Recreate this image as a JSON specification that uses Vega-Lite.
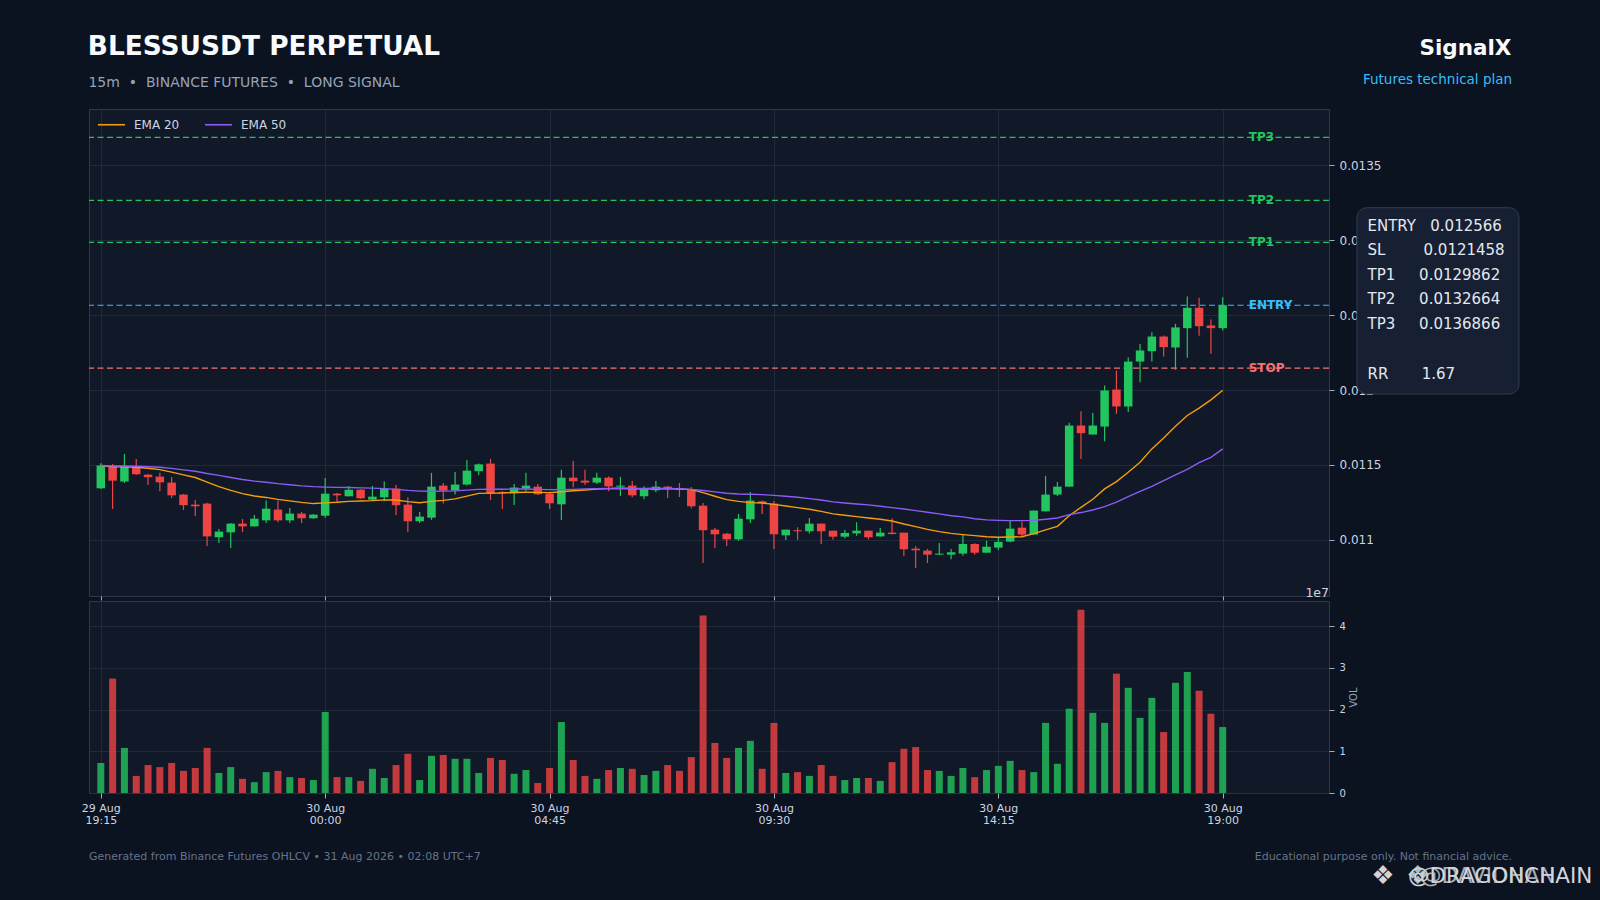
{
  "$schema": "https://vega.github.io/schema/vega-lite/v6.json",
  "description": "BLESSUSDT perpetual 15m candles with EMA 20/50, trade levels and volume.",
  "background": "#0b1220",
  "padding": 0,
  "autosize": {"type": "pad"},
  "bounds": "flush",
  "spacing": 5,
  "config": {
    "font": "DejaVu Sans",
    "view": {"fill": "#111827", "stroke": "#2d394b", "strokeWidth": 1},
    "axis": {
      "grid": true,
      "gridColor": "#243044",
      "gridWidth": 0.8,
      "domain": false,
      "tickColor": "#cbd5e1",
      "tickWidth": 0.8,
      "labelColor": "#cbd5e1",
      "labelFont": "DejaVu Sans",
      "titleColor": "#94a3b8",
      "titleFont": "DejaVu Sans",
      "titleFontWeight": "normal"
    },
    "legend": {
      "labelColor": "#cbd5e1",
      "labelFont": "DejaVu Sans",
      "labelFontSize": 12
    }
  },
  "datasets": {
    "candles": [
      {"i":0,"o":0.011344,"h":0.011511,"l":0.01134,"c":0.011496,"v":7200000,"e20":0.011496,"e50":0.011496},
      {"i":1,"o":0.011496,"h":0.011507,"l":0.011206,"c":0.011395,"v":27400000,"e20":0.011487,"e50":0.011493},
      {"i":2,"o":0.011389,"h":0.011573,"l":0.01138,"c":0.011491,"v":10800000,"e20":0.011488,"e50":0.011493},
      {"i":3,"o":0.011491,"h":0.01154,"l":0.011433,"c":0.011438,"v":4100000,"e20":0.011484,"e50":0.011491},
      {"i":4,"o":0.011435,"h":0.01144,"l":0.011366,"c":0.011418,"v":6700000,"e20":0.011478,"e50":0.011488},
      {"i":5,"o":0.011422,"h":0.011447,"l":0.011324,"c":0.011384,"v":6200000,"e20":0.011469,"e50":0.011484},
      {"i":6,"o":0.011382,"h":0.011418,"l":0.01128,"c":0.011297,"v":7200000,"e20":0.011452,"e50":0.011477},
      {"i":7,"o":0.011302,"h":0.011306,"l":0.011199,"c":0.011231,"v":5300000,"e20":0.011434,"e50":0.011467},
      {"i":8,"o":0.011235,"h":0.011266,"l":0.011159,"c":0.011224,"v":6000000,"e20":0.011416,"e50":0.011458},
      {"i":9,"o":0.011242,"h":0.011248,"l":0.010959,"c":0.011023,"v":10800000,"e20":0.011385,"e50":0.011443},
      {"i":10,"o":0.011017,"h":0.011072,"l":0.010979,"c":0.011055,"v":4800000,"e20":0.011355,"e50":0.01143},
      {"i":11,"o":0.01105,"h":0.011112,"l":0.010945,"c":0.011108,"v":6200000,"e20":0.01133,"e50":0.011416},
      {"i":12,"o":0.011108,"h":0.011139,"l":0.011052,"c":0.01109,"v":3400000,"e20":0.011308,"e50":0.011403},
      {"i":13,"o":0.01109,"h":0.011166,"l":0.011088,"c":0.011141,"v":2600000,"e20":0.011293,"e50":0.011392},
      {"i":14,"o":0.01113,"h":0.011262,"l":0.011112,"c":0.011208,"v":5000000,"e20":0.011283,"e50":0.011384},
      {"i":15,"o":0.011202,"h":0.011262,"l":0.011117,"c":0.01113,"v":5300000,"e20":0.01127,"e50":0.011375},
      {"i":16,"o":0.01113,"h":0.011213,"l":0.011112,"c":0.011175,"v":3800000,"e20":0.01126,"e50":0.011368},
      {"i":17,"o":0.011175,"h":0.011186,"l":0.011112,"c":0.011144,"v":3600000,"e20":0.01125,"e50":0.01136},
      {"i":18,"o":0.011144,"h":0.011173,"l":0.011141,"c":0.011168,"v":3100000,"e20":0.011242,"e50":0.011355},
      {"i":19,"o":0.011161,"h":0.011413,"l":0.011148,"c":0.011308,"v":19400000,"e20":0.011247,"e50":0.011352},
      {"i":20,"o":0.011308,"h":0.011313,"l":0.011255,"c":0.011297,"v":3800000,"e20":0.011251,"e50":0.01135},
      {"i":21,"o":0.011291,"h":0.01136,"l":0.011289,"c":0.011335,"v":3800000,"e20":0.011257,"e50":0.011349},
      {"i":22,"o":0.011335,"h":0.011337,"l":0.011275,"c":0.011277,"v":2900000,"e20":0.011259,"e50":0.011347},
      {"i":23,"o":0.011268,"h":0.01136,"l":0.011262,"c":0.011288,"v":5800000,"e20":0.011262,"e50":0.011345},
      {"i":24,"o":0.011284,"h":0.011389,"l":0.011257,"c":0.011342,"v":3600000,"e20":0.011267,"e50":0.011342},
      {"i":25,"o":0.011342,"h":0.011366,"l":0.011166,"c":0.011231,"v":6700000,"e20":0.011266,"e50":0.011337},
      {"i":26,"o":0.011235,"h":0.011284,"l":0.011052,"c":0.011124,"v":9400000,"e20":0.011255,"e50":0.01133},
      {"i":27,"o":0.011124,"h":0.011186,"l":0.011112,"c":0.011155,"v":3100000,"e20":0.011248,"e50":0.011325},
      {"i":28,"o":0.011148,"h":0.011447,"l":0.011133,"c":0.011355,"v":8900000,"e20":0.011257,"e50":0.011324},
      {"i":29,"o":0.011362,"h":0.01138,"l":0.011242,"c":0.011329,"v":9100000,"e20":0.011263,"e50":0.011325},
      {"i":30,"o":0.011329,"h":0.011453,"l":0.011302,"c":0.011369,"v":8200000,"e20":0.011273,"e50":0.011327},
      {"i":31,"o":0.011369,"h":0.011533,"l":0.011362,"c":0.011462,"v":8200000,"e20":0.011292,"e50":0.011332},
      {"i":32,"o":0.011458,"h":0.011509,"l":0.011433,"c":0.011504,"v":4800000,"e20":0.01131,"e50":0.011337},
      {"i":33,"o":0.011509,"h":0.01154,"l":0.011266,"c":0.011308,"v":8400000,"e20":0.011312,"e50":0.011338},
      {"i":34,"o":0.01132,"h":0.011324,"l":0.011206,"c":0.011313,"v":7900000,"e20":0.011313,"e50":0.011338},
      {"i":35,"o":0.011311,"h":0.011373,"l":0.011233,"c":0.011349,"v":4600000,"e20":0.011316,"e50":0.011339},
      {"i":36,"o":0.011342,"h":0.011447,"l":0.011324,"c":0.011362,"v":5500000,"e20":0.011318,"e50":0.011339},
      {"i":37,"o":0.011355,"h":0.011373,"l":0.0113,"c":0.011304,"v":2400000,"e20":0.011317,"e50":0.011337},
      {"i":38,"o":0.011308,"h":0.011313,"l":0.011206,"c":0.011244,"v":6000000,"e20":0.011315,"e50":0.011335},
      {"i":39,"o":0.011237,"h":0.011467,"l":0.011133,"c":0.011415,"v":17000000,"e20":0.011321,"e50":0.011335},
      {"i":40,"o":0.011415,"h":0.011527,"l":0.011351,"c":0.011391,"v":7900000,"e20":0.011328,"e50":0.011337},
      {"i":41,"o":0.011395,"h":0.011467,"l":0.011366,"c":0.011382,"v":4100000,"e20":0.011333,"e50":0.011339},
      {"i":42,"o":0.011382,"h":0.011447,"l":0.011373,"c":0.011415,"v":3400000,"e20":0.011339,"e50":0.011342},
      {"i":43,"o":0.011415,"h":0.011422,"l":0.011324,"c":0.011357,"v":5500000,"e20":0.011342,"e50":0.011343},
      {"i":44,"o":0.011355,"h":0.01142,"l":0.011293,"c":0.011362,"v":6000000,"e20":0.011344,"e50":0.011344},
      {"i":45,"o":0.011362,"h":0.011393,"l":0.011284,"c":0.011297,"v":5800000,"e20":0.011341,"e50":0.011343},
      {"i":46,"o":0.011291,"h":0.011357,"l":0.011271,"c":0.011337,"v":4300000,"e20":0.011341,"e50":0.011343},
      {"i":47,"o":0.011331,"h":0.011393,"l":0.011317,"c":0.011355,"v":5300000,"e20":0.011342,"e50":0.011344},
      {"i":48,"o":0.011355,"h":0.01136,"l":0.01128,"c":0.01134,"v":6700000,"e20":0.011341,"e50":0.011343},
      {"i":49,"o":0.011342,"h":0.01138,"l":0.011286,"c":0.011333,"v":5300000,"e20":0.01134,"e50":0.011342},
      {"i":50,"o":0.011337,"h":0.011353,"l":0.01121,"c":0.011224,"v":8600000,"e20":0.011335,"e50":0.011337},
      {"i":51,"o":0.011228,"h":0.011246,"l":0.010845,"c":0.011064,"v":42500000,"e20":0.011315,"e50":0.011329},
      {"i":52,"o":0.011068,"h":0.011079,"l":0.010945,"c":0.011037,"v":12000000,"e20":0.011291,"e50":0.01132},
      {"i":53,"o":0.011041,"h":0.011046,"l":0.010959,"c":0.011003,"v":8400000,"e20":0.011268,"e50":0.011311},
      {"i":54,"o":0.011003,"h":0.011173,"l":0.010994,"c":0.011141,"v":10800000,"e20":0.011257,"e50":0.011306},
      {"i":55,"o":0.011137,"h":0.01132,"l":0.011112,"c":0.011262,"v":12500000,"e20":0.011248,"e50":0.011304},
      {"i":56,"o":0.011257,"h":0.011262,"l":0.011173,"c":0.011246,"v":5800000,"e20":0.011246,"e50":0.011302},
      {"i":57,"o":0.011242,"h":0.011259,"l":0.010939,"c":0.011037,"v":16800000,"e20":0.011237,"e50":0.011297},
      {"i":58,"o":0.01103,"h":0.011068,"l":0.010999,"c":0.011068,"v":4800000,"e20":0.011226,"e50":0.011291},
      {"i":59,"o":0.011064,"h":0.011084,"l":0.010999,"c":0.011057,"v":5000000,"e20":0.011215,"e50":0.011284},
      {"i":60,"o":0.011057,"h":0.011146,"l":0.011043,"c":0.011108,"v":4100000,"e20":0.011204,"e50":0.011275},
      {"i":61,"o":0.011108,"h":0.011108,"l":0.010972,"c":0.011057,"v":6700000,"e20":0.01119,"e50":0.011266},
      {"i":62,"o":0.011061,"h":0.011061,"l":0.011003,"c":0.011021,"v":4100000,"e20":0.011173,"e50":0.011253},
      {"i":63,"o":0.011021,"h":0.011066,"l":0.01101,"c":0.011046,"v":3100000,"e20":0.011164,"e50":0.011246},
      {"i":64,"o":0.011043,"h":0.011117,"l":0.011028,"c":0.011061,"v":3600000,"e20":0.011155,"e50":0.011239},
      {"i":65,"o":0.011061,"h":0.011061,"l":0.011003,"c":0.011017,"v":3600000,"e20":0.011146,"e50":0.011233},
      {"i":66,"o":0.011023,"h":0.011079,"l":0.011021,"c":0.011048,"v":2900000,"e20":0.011137,"e50":0.011224},
      {"i":67,"o":0.011048,"h":0.011144,"l":0.011035,"c":0.011039,"v":7400000,"e20":0.011126,"e50":0.011215},
      {"i":68,"o":0.011048,"h":0.011048,"l":0.01089,"c":0.010937,"v":10600000,"e20":0.011106,"e50":0.011206},
      {"i":69,"o":0.010941,"h":0.010957,"l":0.010812,"c":0.01093,"v":11000000,"e20":0.011088,"e50":0.011195},
      {"i":70,"o":0.010928,"h":0.010939,"l":0.010845,"c":0.010901,"v":5500000,"e20":0.01107,"e50":0.011184},
      {"i":71,"o":0.010901,"h":0.010979,"l":0.010899,"c":0.010908,"v":5300000,"e20":0.011055,"e50":0.011173},
      {"i":72,"o":0.010901,"h":0.010939,"l":0.01087,"c":0.010917,"v":4100000,"e20":0.011043,"e50":0.011161},
      {"i":73,"o":0.010908,"h":0.011032,"l":0.010894,"c":0.010972,"v":6000000,"e20":0.011035,"e50":0.011153},
      {"i":74,"o":0.010972,"h":0.010977,"l":0.010901,"c":0.010914,"v":3800000,"e20":0.011028,"e50":0.011141},
      {"i":75,"o":0.010914,"h":0.010994,"l":0.010914,"c":0.010954,"v":5500000,"e20":0.011021,"e50":0.011133},
      {"i":76,"o":0.010948,"h":0.011017,"l":0.010932,"c":0.010986,"v":6500000,"e20":0.011017,"e50":0.01113},
      {"i":77,"o":0.010988,"h":0.01113,"l":0.010983,"c":0.011075,"v":7700000,"e20":0.011019,"e50":0.011128},
      {"i":78,"o":0.011081,"h":0.011121,"l":0.011017,"c":0.011035,"v":5500000,"e20":0.011021,"e50":0.011128},
      {"i":79,"o":0.011035,"h":0.011195,"l":0.011035,"c":0.011195,"v":5000000,"e20":0.011041,"e50":0.01113},
      {"i":80,"o":0.01119,"h":0.011427,"l":0.01119,"c":0.011302,"v":16800000,"e20":0.011066,"e50":0.011137},
      {"i":81,"o":0.011302,"h":0.011386,"l":0.011293,"c":0.011355,"v":7000000,"e20":0.01109,"e50":0.011146},
      {"i":82,"o":0.011355,"h":0.011781,"l":0.011355,"c":0.011763,"v":20200000,"e20":0.011161,"e50":0.011168},
      {"i":83,"o":0.011763,"h":0.011859,"l":0.01154,"c":0.011712,"v":43900000,"e20":0.011217,"e50":0.011182},
      {"i":84,"o":0.011703,"h":0.011847,"l":0.011703,"c":0.011763,"v":19200000,"e20":0.011271,"e50":0.011199},
      {"i":85,"o":0.011756,"h":0.01203,"l":0.011658,"c":0.011997,"v":16800000,"e20":0.01134,"e50":0.011222},
      {"i":86,"o":0.012003,"h":0.01213,"l":0.011841,"c":0.01189,"v":28600000,"e20":0.011389,"e50":0.011251},
      {"i":87,"o":0.01189,"h":0.012219,"l":0.011854,"c":0.01219,"v":25200000,"e20":0.011451,"e50":0.011288},
      {"i":88,"o":0.01219,"h":0.012308,"l":0.012052,"c":0.012264,"v":18000000,"e20":0.011518,"e50":0.011324},
      {"i":89,"o":0.012259,"h":0.012386,"l":0.01219,"c":0.012357,"v":22800000,"e20":0.011607,"e50":0.011357},
      {"i":90,"o":0.012357,"h":0.012364,"l":0.012224,"c":0.012286,"v":14600000,"e20":0.01168,"e50":0.011395},
      {"i":91,"o":0.012284,"h":0.012442,"l":0.012135,"c":0.012418,"v":26400000,"e20":0.011758,"e50":0.011433},
      {"i":92,"o":0.012413,"h":0.012625,"l":0.012215,"c":0.012549,"v":29000000,"e20":0.01183,"e50":0.011471},
      {"i":93,"o":0.012549,"h":0.012616,"l":0.012362,"c":0.012426,"v":24500000,"e20":0.011879,"e50":0.011516},
      {"i":94,"o":0.012431,"h":0.012471,"l":0.012242,"c":0.012413,"v":19000000,"e20":0.011934,"e50":0.011551},
      {"i":95,"o":0.012413,"h":0.01262,"l":0.012397,"c":0.012566,"v":15800000,"e20":0.011998,"e50":0.011607}
    ],
    "levels": [
      {"name": "TP3", "level": 0.0136866},
      {"name": "TP2", "level": 0.0132664},
      {"name": "TP1", "level": 0.0129862},
      {"name": "ENTRY", "level": 0.012566},
      {"name": "STOP", "level": 0.0121458}
    ]
  },
  "vconcat": [
    {
      "width": 1240,
      "height": 487,
      "resolve": {"scale": {"color": "independent"}},
      "layer": [
        {
          "data": {"values": [{}]},
          "mark": {"type": "rect", "fill": "transparent"},
          "encoding": {
            "x": {"datum": -8.4516, "type": "quantitative"},
            "x2": {"datum": 127.03},
            "y": {"datum": 0.014597, "type": "quantitative"},
            "y2": {"datum": 0.008589}
          }
        },
        {
          "data": {"name": "levels"},
          "mark": {"type": "rule", "strokeWidth": 1.2, "strokeDash": [6, 3.5]},
          "encoding": {
            "y": {"field": "level", "type": "quantitative"},
            "color": {
              "field": "name",
              "type": "nominal",
              "scale": {"domain": ["TP3", "TP2", "TP1", "ENTRY", "STOP"], "range": ["#22c55e", "#22c55e", "#22c55e", "#38bdf8", "#f87171"]},
              "legend": null
            }
          }
        },
        {
          "data": {"name": "levels"},
          "mark": {"type": "text", "align": "left", "baseline": "middle", "fontSize": 12, "fontWeight": "bold"},
          "encoding": {
            "x": {"datum": 97.2, "type": "quantitative"},
            "y": {"field": "level", "type": "quantitative"},
            "text": {"field": "name"},
            "color": {
              "field": "name",
              "type": "nominal",
              "scale": {"domain": ["TP3", "TP2", "TP1", "ENTRY", "STOP"], "range": ["#22c55e", "#22c55e", "#22c55e", "#38bdf8", "#f87171"]},
              "legend": null
            }
          }
        },
        {
          "data": {"name": "candles"},
          "mark": {"type": "rule", "strokeWidth": 1.2},
          "encoding": {
            "x": {
              "field": "i",
              "type": "quantitative",
              "scale": {"domain": [-1, 104], "nice": false, "zero": false, "padding": 0},
              "axis": {"values": [0, 19, 38, 57, 76, 95], "labels": false, "tickSize": 4, "title": null}
            },
            "y": {
              "field": "l",
              "type": "quantitative",
              "scale": {"domain": [0.010625, 0.013876], "nice": false, "zero": false},
              "axis": {
                "orient": "right",
                "values": [0.011, 0.0115, 0.012, 0.0125, 0.013, 0.0135],
                "format": "~g",
                "labelFontSize": 12,
                "tickSize": 5,
                "labelPadding": 5,
                "title": null
              }
            },
            "y2": {"field": "h"},
            "color": {"condition": {"test": "datum.c >= datum.o", "value": "#22c55e"}, "value": "#ef4444"}
          }
        },
        {
          "data": {"name": "candles"},
          "mark": {"type": "bar", "size": 8.5},
          "encoding": {
            "x": {"field": "i", "type": "quantitative"},
            "y": {"field": "o", "type": "quantitative"},
            "y2": {"field": "c"},
            "color": {"condition": {"test": "datum.c >= datum.o", "value": "#22c55e"}, "value": "#ef4444"}
          }
        },
        {
          "data": {"name": "candles"},
          "transform": [{"fold": ["e20", "e50"], "as": ["ema", "value"]}],
          "mark": {"type": "line", "strokeWidth": 1.4},
          "encoding": {
            "x": {"field": "i", "type": "quantitative"},
            "y": {"field": "value", "type": "quantitative"},
            "color": {
              "field": "ema",
              "type": "nominal",
              "scale": {"domain": ["e20", "e50"], "range": ["#f59e0b", "#8b5cf6"]},
              "legend": {
                "title": null,
                "orient": "none",
                "legendX": 8,
                "legendY": 1,
                "direction": "horizontal",
                "symbolType": "stroke",
                "symbolSize": 729,
                "symbolStrokeWidth": 1.6,
                "labelOffset": 8,
                "columnPadding": 21,
                "padding": 0,
                "labelExpr": "datum.value == 'e20' ? 'EMA 20' : 'EMA 50'"
              }
            }
          }
        },
        {
          "data": {"values": [{}]},
          "mark": {"type": "rect", "fill": "#172033", "stroke": "#2f3d52", "strokeWidth": 1, "cornerRadius": 10},
          "encoding": {
            "x": {"datum": 106.37, "type": "quantitative"},
            "x2": {"datum": 120.09},
            "y": {"datum": 0.013217, "type": "quantitative"},
            "y2": {"datum": 0.0119735}
          }
        },
        {
          "data": {"values": [{}]},
          "mark": {
            "type": "text",
            "align": "left",
            "baseline": "alphabetic",
            "fontSize": 15,
            "lineHeight": 24.5,
            "color": "#e2e8f0",
            "text": [
              "ENTRY\u00a0\u00a0\u00a00.012566",
              "SL\u00a0\u00a0\u00a0\u00a0\u00a0\u00a0\u00a0\u00a00.0121458",
              "TP1\u00a0\u00a0\u00a0\u00a0\u00a00.0129862",
              "TP2\u00a0\u00a0\u00a0\u00a0\u00a00.0132664",
              "TP3\u00a0\u00a0\u00a0\u00a0\u00a00.0136866"
            ]
          },
          "encoding": {
            "x": {"datum": 107.26, "type": "quantitative"},
            "y": {"datum": 0.013062, "type": "quantitative"}
          }
        },
        {
          "data": {"values": [{}]},
          "mark": {"type": "text", "align": "left", "baseline": "alphabetic", "fontSize": 15, "color": "#e2e8f0", "text": "RR\u00a0\u00a0\u00a0\u00a0\u00a0\u00a0\u00a01.67"},
          "encoding": {
            "x": {"datum": 107.26, "type": "quantitative"},
            "y": {"datum": 0.0120736, "type": "quantitative"}
          }
        },
        {
          "data": {"values": [{}]},
          "mark": {"type": "text", "align": "left", "baseline": "alphabetic", "fontSize": 26.4, "fontWeight": "bold", "color": "#f8fafc", "text": "BLESSUSDT PERPETUAL"},
          "encoding": {
            "x": {"datum": -1.1, "type": "quantitative"},
            "y": {"datum": 0.0142345, "type": "quantitative"}
          }
        },
        {
          "data": {"values": [{}]},
          "mark": {"type": "text", "align": "left", "baseline": "alphabetic", "fontSize": 14, "color": "#94a3b8", "text": "15m\u00a0\u00a0•\u00a0\u00a0BINANCE FUTURES\u00a0\u00a0•\u00a0\u00a0LONG SIGNAL"},
          "encoding": {
            "x": {"datum": -1.05, "type": "quantitative"},
            "y": {"datum": 0.014023, "type": "quantitative"}
          }
        },
        {
          "data": {"values": [{}]},
          "mark": {"type": "text", "align": "right", "baseline": "alphabetic", "fontSize": 21.5, "fontWeight": "bold", "color": "#f8fafc", "text": "SignalX"},
          "encoding": {
            "x": {"datum": 119.45, "type": "quantitative"},
            "y": {"datum": 0.0142345, "type": "quantitative"}
          }
        },
        {
          "data": {"values": [{}]},
          "mark": {"type": "text", "align": "right", "baseline": "alphabetic", "fontSize": 13.5, "color": "#38bdf8", "text": "Futures technical plan"},
          "encoding": {
            "x": {"datum": 119.5, "type": "quantitative"},
            "y": {"datum": 0.0140409, "type": "quantitative"}
          }
        }
      ]
    },
    {
      "width": 1240,
      "height": 192,
      "layer": [
        {
          "data": {"name": "candles"},
          "mark": {"type": "bar", "size": 7, "opacity": 0.8},
          "encoding": {
            "x": {
              "field": "i",
              "type": "quantitative",
              "scale": {"domain": [-1, 104], "nice": false, "zero": false, "padding": 0},
              "axis": {
                "values": [0, 19, 38, 57, 76, 95],
                "labelExpr": "datum.value == 0 ? ['29 Aug', '19:15'] : datum.value == 19 ? ['30 Aug', '00:00'] : datum.value == 38 ? ['30 Aug', '04:45'] : datum.value == 57 ? ['30 Aug', '09:30'] : datum.value == 76 ? ['30 Aug', '14:15'] : ['30 Aug', '19:00']",
                "labelFontSize": 11,
                "labelLineHeight": 12,
                "tickSize": 5,
                "labelPadding": 4,
                "title": null
              }
            },
            "y": {
              "field": "v",
              "type": "quantitative",
              "scale": {"domain": [0, 46000000], "nice": false},
              "axis": {
                "orient": "right",
                "values": [0, 10000000, 20000000, 30000000, 40000000],
                "labelExpr": "format(datum.value / 10000000, 'd')",
                "labelFontSize": 10,
                "tickSize": 5,
                "labelPadding": 5,
                "title": "VOL",
                "titleFontSize": 10,
                "titleAngle": 270,
                "titlePadding": 13
              }
            },
            "color": {"condition": {"test": "datum.c >= datum.o", "value": "#22c55e"}, "value": "#ef4444"}
          }
        },
        {
          "data": {"values": [{}]},
          "mark": {"type": "text", "align": "right", "baseline": "alphabetic", "fontSize": 12.5, "color": "#cbd5e1", "text": "1e7"},
          "encoding": {
            "x": {"datum": 104, "type": "quantitative"},
            "y": {"datum": 46960000, "type": "quantitative"}
          }
        },
        {
          "data": {"values": [{}]},
          "mark": {"type": "text", "align": "left", "baseline": "alphabetic", "fontSize": 11, "color": "#64748b", "text": "Generated from Binance Futures OHLCV • 31 Aug 2026 • 02:08 UTC+7"},
          "encoding": {
            "x": {"datum": -1, "type": "quantitative"},
            "y": {"datum": -16120000, "type": "quantitative"}
          }
        },
        {
          "data": {"values": [{}]},
          "mark": {"type": "text", "align": "right", "baseline": "alphabetic", "fontSize": 11, "color": "#64748b", "text": "Educational purpose only. Not financial advice."},
          "encoding": {
            "x": {"datum": 119.5, "type": "quantitative"},
            "y": {"datum": -16120000, "type": "quantitative"}
          }
        },
        {
          "data": {"values": [{}]},
          "mark": {"type": "text", "align": "center", "baseline": "alphabetic", "fontSize": 26, "color": "#d1d5db", "text": "❖"},
          "encoding": {
            "x": {"datum": 108.57, "type": "quantitative"},
            "y": {"datum": -21900000, "type": "quantitative"}
          }
        },
        {
          "data": {"values": [{}]},
          "mark": {"type": "text", "align": "center", "baseline": "alphabetic", "fontSize": 26, "color": "#d1d5db", "opacity": 0.85, "text": "❖"},
          "encoding": {
            "x": {"datum": 111.5, "type": "quantitative"},
            "y": {"datum": -21900000, "type": "quantitative"}
          }
        },
        {
          "data": {"values": [{}]},
          "mark": {"type": "text", "align": "left", "baseline": "alphabetic", "fontSize": 21.5, "color": "#d1d5db", "text": "@DRAGONCHAIN"},
          "encoding": {
            "x": {"datum": 110.69, "type": "quantitative"},
            "y": {"datum": -21490000, "type": "quantitative"}
          }
        },
        {
          "data": {"values": [{}]},
          "mark": {"type": "text", "align": "left", "baseline": "alphabetic", "fontSize": 21.5, "color": "#d1d5db", "opacity": 0.8, "text": "@DAVIDHAN"},
          "encoding": {
            "x": {"datum": 111.7, "type": "quantitative"},
            "y": {"datum": -21490000, "type": "quantitative"}
          }
        }
      ]
    }
  ]
}
